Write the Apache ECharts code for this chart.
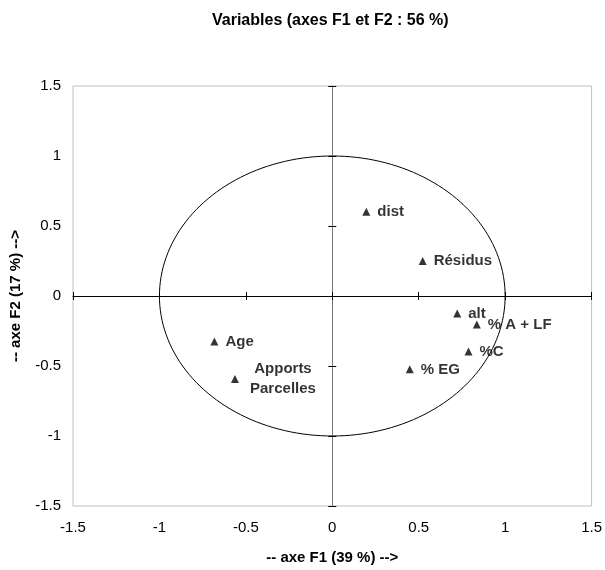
<!DOCTYPE html>
<html>
<head>
<meta charset="utf-8">
<script src="https://cdn.jsdelivr.net/npm/echarts@6/dist/echarts.min.js"></script>
<style>html,body{margin:0;padding:0;background:#fff}#c{width:605px;height:570px}</style>
</head>
<body>
<div id="c"></div>
<script>
var variables = ['dist', 'Résidus', 'alt', '% A + LF', '%C', '% EG', 'Age', 'Apports\nParcelles'];
var f1 = [0.197, 0.523, 0.723, 0.836, 0.788, 0.448, -0.682, -0.563];
var f2 = [0.601, 0.250, -0.125, -0.203, -0.396, -0.524, -0.325, -0.592];
var axisMin = -1.5, axisMax = 1.5, axisStep = 0.5;

var FONT = '"Liberation Sans", Arial, sans-serif';

// unit correlation circle (geometry, not data)
var circle = [];
for (var i = 0; i <= 180; i++) {
  var a = i / 180 * 2 * Math.PI;
  circle.push([Math.cos(a), Math.sin(a)]);
}

var points = variables.map(function (n, i) {
  var item = { name: n, value: [f1[i], f2[i]] };
  if (n.indexOf('\n') >= 0) {
    item.label = { align: 'center', offset: [37, 0], lineHeight: 20 };
  }
  return item;
});

function baseAxis(extra) {
  var o = { type: 'value', min: axisMin, max: axisMax, interval: axisStep,
    splitLine: { show: false }, axisLabel: { show: false }, axisTick: { show: false },
    axisLine: { show: false, onZero: false } };
  for (var k in extra) o[k] = extra[k];
  return o;
}

var chart = echarts.init(document.getElementById('c'), null, { renderer: 'canvas' });
chart.setOption({
  animation: false,
  title: {
    text: 'Variables (axes F1 et F2 : 56 %)',
    left: 212, top: 13, padding: 0,
    textStyle: { fontFamily: FONT, fontSize: 16, fontWeight: 'bold', color: '#000' }
  },
  grid: { left: 71, right: 12, top: 86, bottom: 60, show: true, borderColor: '#c0c0c0', borderWidth: 1 },
  xAxis: [
    baseAxis({
      position: 'bottom',
      axisLabel: { show: true, margin: 14, fontSize: 15, fontFamily: FONT, color: '#000' },
      name: '-- axe F1 (39 %) -->', nameLocation: 'middle', nameGap: 44,
      nameTextStyle: { fontFamily: FONT, fontSize: 15, fontWeight: 'bold', color: '#000' }
    }),
    baseAxis({ position: 'bottom',
      axisLine: { show: true, onZero: true, onZeroAxisIndex: 0, lineStyle: { color: '#000', width: 1 } },
      axisTick: { show: true, inside: true, length: 4, lineStyle: { color: '#000' } } }),
    baseAxis({ position: 'bottom',
      axisLine: { show: false, onZero: true, onZeroAxisIndex: 0 },
      axisTick: { show: true, inside: false, length: 4, lineStyle: { color: '#000' } } })
  ],
  yAxis: [
    baseAxis({
      position: 'left',
      axisLabel: { show: true, margin: 12, fontSize: 15, fontFamily: FONT, color: '#000' },
      name: '-- axe F2 (17 %) -->', nameLocation: 'middle', nameGap: 50, nameRotate: 90,
      nameTextStyle: { fontFamily: FONT, fontSize: 15, fontWeight: 'bold', color: '#000' }
    }),
    baseAxis({ position: 'left',
      axisLine: { show: true, onZero: true, onZeroAxisIndex: 0, lineStyle: { color: '#777', width: 1 } },
      axisTick: { show: true, inside: true, length: 4, lineStyle: { color: '#000' } } }),
    baseAxis({ position: 'left',
      axisLine: { show: false, onZero: true, onZeroAxisIndex: 0 },
      axisTick: { show: true, inside: false, length: 4, lineStyle: { color: '#000' } } })
  ],
  series: [
    {
      type: 'line', data: circle, showSymbol: false, symbol: 'none', silent: true,
      xAxisIndex: 0, yAxisIndex: 0,
      lineStyle: { color: '#000', width: 1 }, z: 1
    },
    {
      type: 'scatter', data: points, xAxisIndex: 0, yAxisIndex: 0,
      symbol: 'triangle', symbolSize: 8,
      itemStyle: { color: '#000' },
      label: {
        show: true, position: 'right', distance: 7,
        formatter: function (p) { return p.name; },
        fontFamily: FONT, fontSize: 15, fontWeight: 'bold', color: '#000'
      },
      z: 3
    }
  ]
});
</script>
</body>
</html>
